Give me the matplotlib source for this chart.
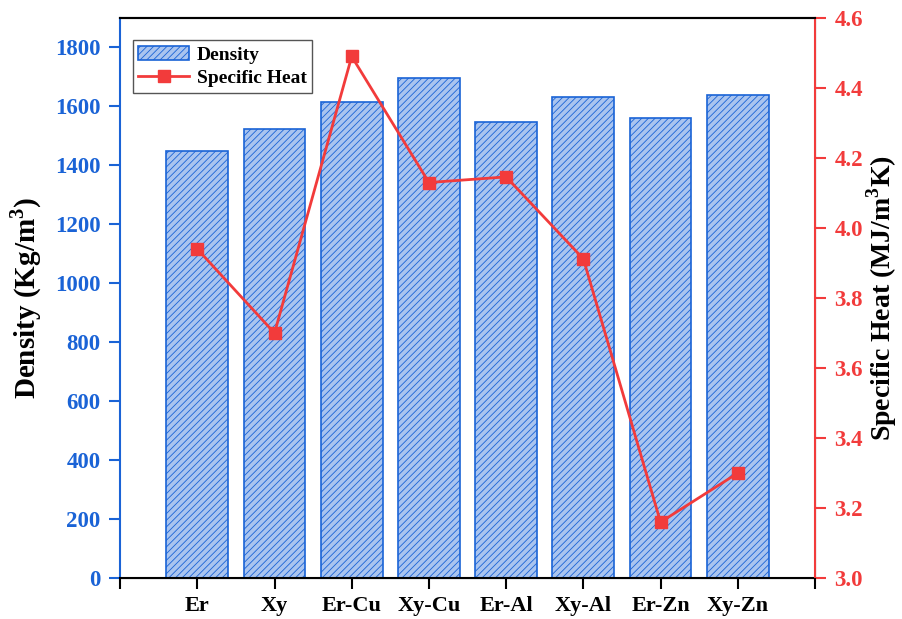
import matplotlib
matplotlib.use("Agg")
import matplotlib.pyplot as plt
import numpy as np

categories = ["Er", "Xy", "Er-Cu", "Xy-Cu", "Er-Al", "Xy-Al", "Er-Zn", "Xy-Zn"]
density = [1450, 1525, 1615, 1695, 1548, 1632, 1560, 1640]
specific_heat = [3.94, 3.70, 4.49, 4.13, 4.146, 3.912, 3.16, 3.30]
left_ticks = [0, 200, 400, 600, 800, 1000, 1200, 1400, 1600, 1800]
right_ticks = [3.0, 3.2, 3.4, 3.6, 3.8, 4.0, 4.2, 4.4, 4.6]

plt.rcParams['font.family'] = ['Liberation Serif', 'DejaVu Serif']
plt.rcParams['font.weight'] = 'bold'
plt.rcParams['mathtext.fontset'] = 'custom'
plt.rcParams['mathtext.bf'] = 'Liberation Serif:bold'
plt.rcParams['mathtext.rm'] = 'Liberation Serif:bold'
plt.rcParams['hatch.linewidth'] = 0.6

BLUE = "#1a63d6"
RED = "#f23b3b"
FACE = "#a9c4ef"

fig = plt.figure(figsize=(9.03, 6.19), dpi=100)
ax = fig.add_axes([0.133, 0.066, 0.7695, 0.905])
x = np.arange(1, len(categories) + 1)
bars = ax.bar(x, density, width=0.8, color=FACE, edgecolor=BLUE, hatch="/////",
              linewidth=1.2, label="Density")
ax.set_xlim(0, 9)
ax.set_ylim(0, 1900)
ax.set_yticks(left_ticks)
ax.set_xticks(list(range(0, 10)))
ax.set_xticklabels([""] + categories + [""])
ax.tick_params(axis='x', direction='out', length=8, width=1.5, labelsize=16, pad=5)
ax.tick_params(axis='y', direction='out', length=8, width=1.5, colors=BLUE, labelsize=16.5, pad=6)
for lab in ax.get_yticklabels():
    lab.set_color(BLUE)
    lab.set_fontweight('bold')
for lab in ax.get_xticklabels():
    lab.set_fontweight('bold')
ax.spines['left'].set_color(BLUE)
ax.spines['left'].set_linewidth(1.5)
ax.spines['bottom'].set_linewidth(1.5)
ax.spines['top'].set_linewidth(1.5)
ax.set_ylabel("Density (Kg/m$^\\mathbf{3}$)", fontsize=21, fontweight='bold', labelpad=8)

ax2 = ax.twinx()
line, = ax2.plot(x, specific_heat, color=RED, marker='s', markersize=9, linewidth=2,
                 label="Specific Heat")
ax2.set_ylim(3.0, 4.6)
ax2.set_yticks(right_ticks)
ax2.set_yticklabels([f"{v:.1f}" for v in right_ticks])
ax2.tick_params(axis='y', direction='out', length=8, width=1.5, colors=RED, labelsize=16.5, pad=6)
for lab in ax2.get_yticklabels():
    lab.set_color(RED)
    lab.set_fontweight('bold')
ax2.spines['right'].set_color(RED)
ax2.spines['right'].set_linewidth(1.5)
ax2.spines['left'].set_visible(False)
ax2.spines['top'].set_linewidth(1.5)
ax2.set_ylabel("Specific Heat (MJ/m$^\\mathbf{3}$K)", fontsize=20, fontweight='bold', labelpad=1)

leg = ax.legend([bars, line], ["Density", "Specific Heat"], loc='upper left',
                bbox_to_anchor=(0.018, 0.96), fancybox=False, edgecolor='#555555',
                prop={'weight': 'bold', 'size': 14}, borderpad=0.3, handlelength=2.6,
                handletextpad=0.4, labelspacing=0.3, framealpha=1, borderaxespad=0.0)
leg.get_frame().set_linewidth(1.0)

fig.savefig("out.png", dpi=100)
